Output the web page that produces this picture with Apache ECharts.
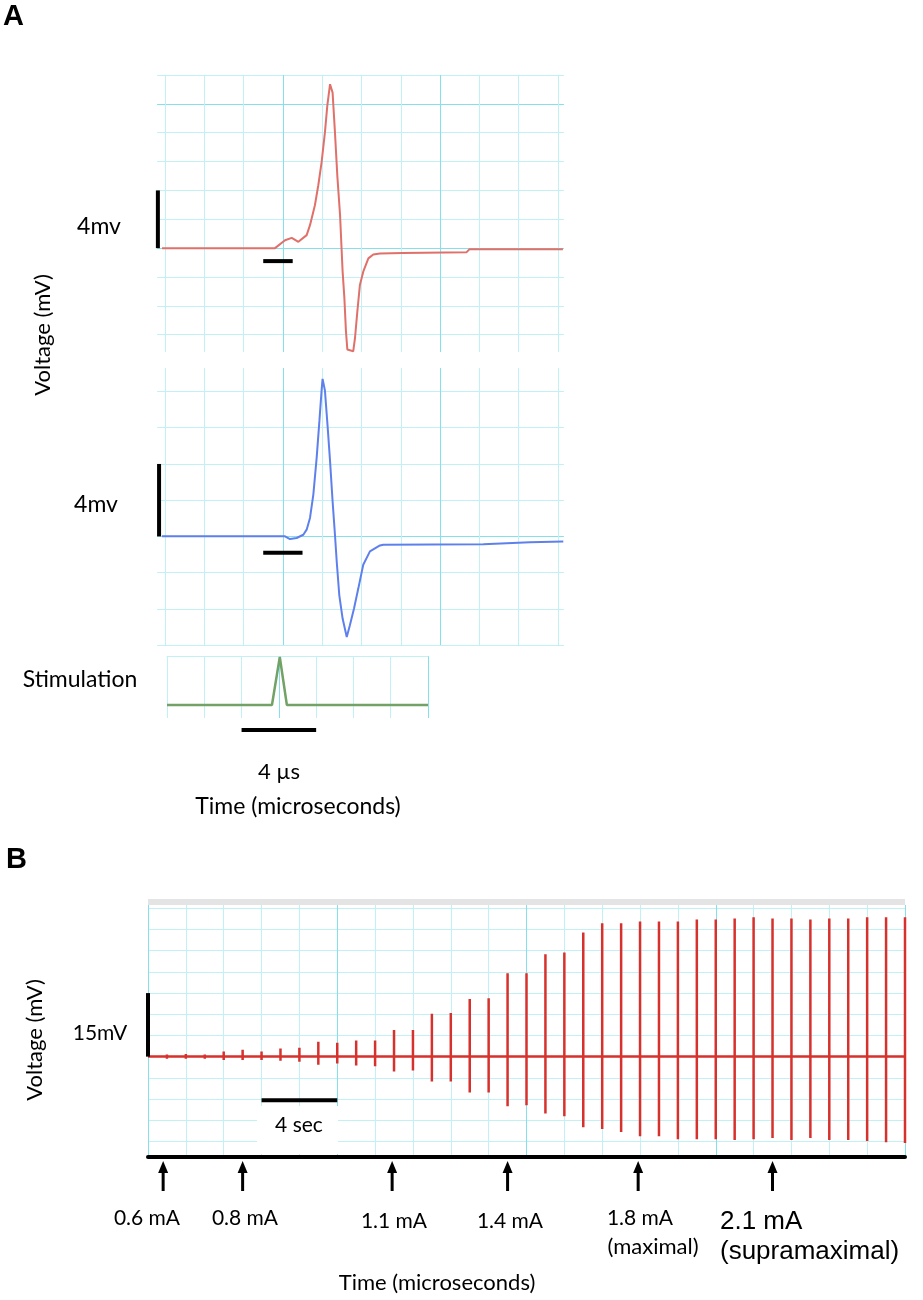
<!DOCTYPE html>
<html>
<head>
<meta charset="utf-8">
<script src="https://cdn.jsdelivr.net/npm/echarts@6/dist/echarts.min.js"></script>
<style>
html, body { margin: 0; padding: 0; background: #fff; }
#chart { width: 923px; height: 1300px; }
</style>
</head>
<body>
<div id="chart"></div>
<script>
// 面板A：复合动作电位 (时间 μs, 电压 mV)
var redTrace = [[-0.15,0],[5.6,0],[6.11,0.55],[6.45,0.71],[6.79,0.44],[7.21,0.9],[7.38,1.59],[7.63,2.97],[7.8,4.34],
	[7.97,5.95],[8.14,8.02],[8.26,9.86],[8.4,11.36],[8.53,10.78],[8.65,8.02],[8.77,5.03],[8.91,2.28],[9.04,-1.63],
	[9.13,-3.47],[9.21,-5.77],[9.28,-7.03],[9.58,-7.15],[9.67,-6.23],[9.79,-4.39],[9.92,-2.55],[10.09,-1.63],
	[10.35,-0.71],[10.6,-0.44],[10.94,-0.37],[12.1,-0.34],[15.35,-0.28],[15.5,-0.07],[20.25,-0.07]];
var blueTrace = [[-0.15,0],[6.11,0],[6.36,-0.15],[6.7,-0.09],[7.04,0.09],[7.21,0.37],[7.38,1.02],[7.55,2.31],[7.72,4.35],
	[7.86,6.39],[7.97,8.06],[8.02,8.7],[8.14,8.06],[8.28,6.02],[8.4,4.17],[8.53,1.94],[8.65,0.09],[8.74,-1.39],
	[8.87,-3.24],[9.04,-4.54],[9.25,-5.56],[9.41,-4.91],[9.62,-3.98],[9.84,-2.87],[10.09,-1.57],[10.43,-0.83],
	[10.94,-0.5],[11.11,-0.46],[16.2,-0.43],[18.58,-0.33],[20.27,-0.28]];
var stimTrace = [[0,0],[5.63,0],[6.05,1],[6.43,0],[14,0]];

// 面板B：每秒一次刺激的反应 (秒, mV)
var spikeTimes = [1,2,3,4,5,6,7,8,9,10,11,12,13,14,15,16,17,18,19,20,
	21,22,23,24,25,26,27,28,29,30,31,32,33,34,35,36,37,38,39,40];
var spikeTop = [0.5,0.6,0.5,1.2,1.6,1.2,1.9,2.1,3.5,3.3,3.8,3.8,6.3,6.3,10.1,10.3,13.6,13.8,19.7,19.7,
	24.2,24.6,29.3,31.5,31.5,31.9,31.9,31.9,32.4,32.4,32.6,32.9,32.6,32.6,32.4,32.6,32.6,32.9,32.9,32.9];
var spikeBottom = [-0.5,-0.5,-0.5,-0.8,-0.8,-0.8,-1.0,-1.2,-1.9,-1.6,-2.1,-2.3,-3.5,-3.3,-5.9,-5.9,-8.5,-8.5,-11.7,-11.5,
	-13.4,-14.1,-16.7,-17.1,-17.8,-18.8,-18.8,-19.5,-19.5,-19.5,-19.7,-19.5,-19.2,-19.7,-19.2,-19.7,-19.7,-19.9,-20.2,-20.4];

// 刺激强度箭头
var arrowTimes = [0.8, 5.0, 12.9, 19.0, 25.9, 33.0];

// 网格线刻度
var aTicksX = [0,2,4,6,8,10,12,14,16,18,20];
var redTicksY = [-6,-4,-2,0,2,4,6,8,10,12];
var bTicksY = [-20,-15,-10,-5,0,5,10,15,20,25,30,35];

// 比例尺
var redBarV = [[-0.36,0],[-0.36,4]];
var redBarH = [[5.0,-0.9],[6.5,-0.9]];
var blueBarV = [[-0.3,0],[-0.3,4]];
var blueBarH = [[5.0,-0.9],[7.0,-0.9]];
var stimBarH = [[4,-0.52],[8,-0.52]];
var bBarV = [[0,0],[0,15]];
var bBarH = [[6,-10.3],[10,-10.3]];

var L = '#c2f1f5', M = '#84e0ea';
var FONT = 'Lato, "Noto Sans", sans-serif';

var bData = [[0,0]];
for(var i=0; i<spikeTimes.length; i++){
	var t = spikeTimes[i];
	bData.push([t,0],[t,spikeTop[i]],[t,spikeBottom[i]],[t,0]);
}

function hideAxis(o){
	o.axisLabel = {show:false};
	o.axisTick = o.axisTick || {show:false};
	o.axisLine = o.axisLine || {show:false};
	return o;
}
function barSeries(data, xi){
	return {type:'line', xAxisIndex:xi, yAxisIndex:xi, data:data, symbol:'none', clip:false, silent:true,
		lineStyle:{color:'#000', width:4}, z:4, animation:false};
}

var myChart = echarts.init(document.getElementById('chart'), null, {renderer:'canvas'});

var option = {
	animation: false,
	grid: [
		{left:157.1, top:75, width:406.8, height:277},
		{left:157.1, top:368, width:406.8, height:277},
		{left:167, top:656, width:261, height:62},
		{left:148, top:905, width:757, height:252}
	],
	xAxis: [
		hideAxis({type:'value', gridIndex:0, min:-0.4, max:20.3,
			axisTick:{show:false, customValues:aTicksX},
			splitLine:{show:true, lineStyle:{color:[L,L,L,M], width:1}}}),
		hideAxis({type:'value', gridIndex:1, min:-0.4, max:20.3,
			axisTick:{show:false, customValues:aTicksX},
			splitLine:{show:true, lineStyle:{color:[L,L,L,M], width:1}}}),
		hideAxis({type:'value', gridIndex:2, min:0, max:14, interval:2, position:'top',
			axisLine:{show:true, onZero:false, lineStyle:{color:L, width:1}},
			splitLine:{show:true, lineStyle:{color:[L,L,L,M], width:1}}}),
		hideAxis({type:'value', gridIndex:3, min:0, max:40, interval:2,
			axisLine:{show:true, onZero:false, lineStyle:{color:'#000', width:4}},
			splitLine:{show:true, lineStyle:{color:[M,L,L,L,L], width:1}}})
	],
	yAxis: [
		hideAxis({type:'value', gridIndex:0, min:-7.2, max:12,
			axisTick:{show:false, customValues:redTicksY},
			splitLine:{show:true, lineStyle:{color:[L,L,L,M,L], width:1}}}),
		hideAxis({type:'value', gridIndex:1, min:-6, max:9.3, interval:2,
			splitLine:{show:true, showMaxLine:false, lineStyle:{color:[L,L,L,M,L,L,L,L], width:1}}}),
		hideAxis({type:'value', gridIndex:2, min:-0.27, max:1.02, splitLine:{show:false}}),
		hideAxis({type:'value', gridIndex:3, min:-23.7, max:35.8,
			axisTick:{show:false, customValues:bTicksY},
			splitLine:{show:true, lineStyle:{color:L, width:1}}})
	],
	series: [
		{type:'line', xAxisIndex:0, yAxisIndex:0, data:redTrace, symbol:'none', clip:false,
			lineStyle:{color:'#e0706a', width:2}, z:3},
		{type:'line', xAxisIndex:1, yAxisIndex:1, data:blueTrace, symbol:'none', clip:false,
			lineStyle:{color:'#5e80ec', width:2}, z:3},
		{type:'line', xAxisIndex:2, yAxisIndex:2, data:stimTrace, symbol:'none', clip:false,
			lineStyle:{color:'#72a266', width:2.5}, z:3},
		{type:'line', xAxisIndex:3, yAxisIndex:3, data:bData, symbol:'none', clip:false,
			lineStyle:{color:'#d6312c', width:2.5}, z:3},
		barSeries(redBarV, 0), barSeries(redBarH, 0),
		barSeries(blueBarV, 1), barSeries(blueBarH, 1),
		barSeries(stimBarH, 2),
		barSeries(bBarV, 3), barSeries(bBarH, 3)
	]
};
myChart.setOption(option);

// 文字与箭头
function txt(s, x, y, font, align, rot){
	return {type:'text', x:x, y:y, rotation:rot || 0, z:20,
		style:{text:s, font:font, fill:'#000', align:align || 'center', verticalAlign:'middle'}};
}
var g = [
	{type:'rect', shape:{x:148, y:899, width:757, height:6}, style:{fill:'#e4e4e4'}, z:1},
	{type:'rect', shape:{x:257, y:1106, width:81, height:48}, style:{fill:'#fff'}, z:1},
	txt('A', 3, 17, 'bold 29px "Liberation Sans", Arial', 'left'),
	txt('B', 6, 860, 'bold 29px "Liberation Sans", Arial', 'left'),
	txt('4mv', 99, 227, '23px ' + FONT),
	txt('4mv', 96, 505, '23px ' + FONT),
	txt('Voltage (mV)', 43, 335, '22px ' + FONT, 'center', Math.PI / 2),
	txt('Stimulation', 80, 680, '23px ' + FONT),
	txt('4 µs', 279, 772, '22px ' + FONT),
	txt('Time (microseconds)', 298, 807, '23px ' + FONT),
	txt('Voltage (mV)', 35, 1040, '22px ' + FONT, 'center', Math.PI / 2),
	txt('15mV', 100, 1033, '21px ' + FONT),
	txt('4 sec', 299, 1125, '21px ' + FONT),
	txt('0.6 mA', 147, 1218, '21px ' + FONT),
	txt('0.8 mA', 245, 1218, '21px ' + FONT),
	txt('1.1 mA', 394, 1221, '21px ' + FONT),
	txt('1.4 mA', 510, 1221, '21px ' + FONT),
	txt('1.8 mA', 640, 1218, '21px ' + FONT),
	txt('(maximal)', 653, 1247, '22px ' + FONT),
	txt('2.1 mA', 720, 1222, '26px "Liberation Sans", Arial', 'left'),
	txt('(supramaximal)', 720, 1252, '26px "Liberation Sans", Arial', 'left'),
	txt('Time (microseconds)', 437, 1283, '22px ' + FONT)
];
var axisY = myChart.convertToPixel({yAxisIndex:3}, -23.7);
for(var j=0; j<arrowTimes.length; j++){
	var ax = myChart.convertToPixel({xAxisIndex:3}, arrowTimes[j]);
	var tip = axisY + 4;
	g.push({type:'polygon', shape:{points:[[ax, tip],[ax-5, tip+12],[ax+5, tip+12]]}, style:{fill:'#000'}, z:20});
	g.push({type:'line', shape:{x1:ax, y1:tip+10, x2:ax, y2:tip+30}, style:{stroke:'#000', lineWidth:3}, z:20});
}
myChart.setOption({graphic: g});
</script>
</body>
</html>
